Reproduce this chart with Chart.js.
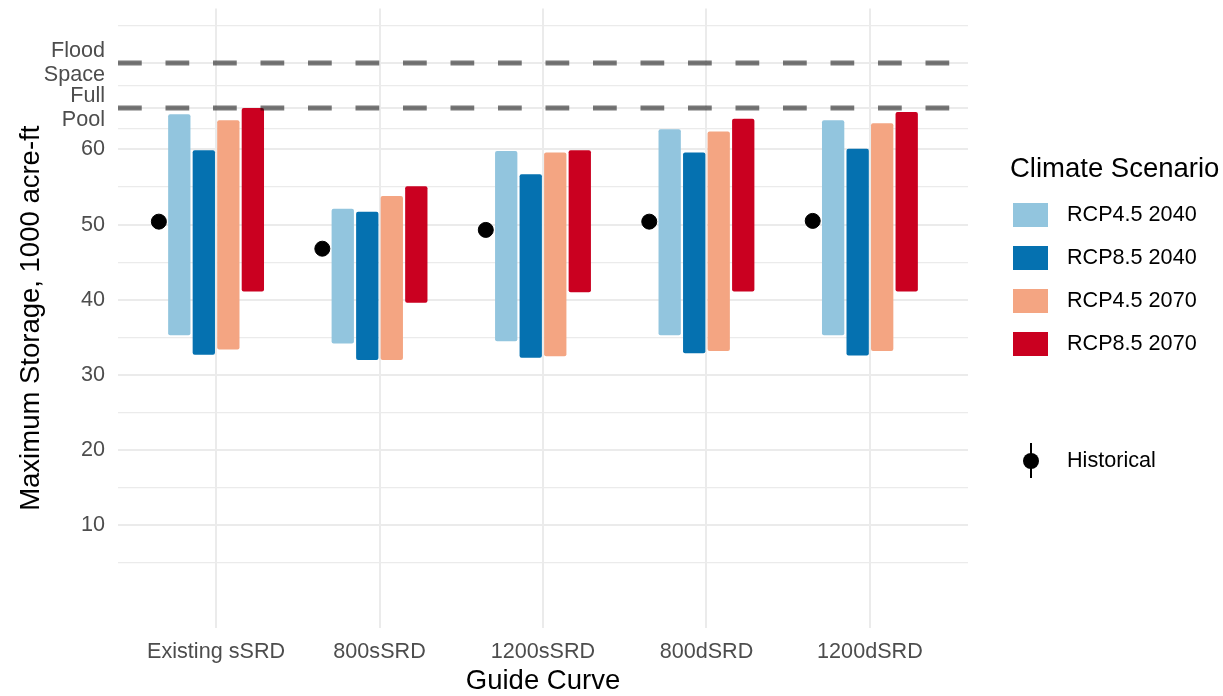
<!DOCTYPE html>
<html>
<head>
<meta charset="utf-8">
<script src="https://cdn.jsdelivr.net/npm/chart.js@4.4.1/dist/chart.umd.min.js"></script>
<style>
  html, body { margin: 0; padding: 0; background: #ffffff; }
  canvas { display: block; }
</style>
</head>
<body>
<canvas id="chart" width="1223" height="696"></canvas>
<script>
// Guide curves on the x axis
const guideCurves = ['Existing sSRD', '800sSRD', '1200sSRD', '800dSRD', '1200dSRD'];

// Climate scenarios and their fills
const scenarios = ['RCP4.5 2040', 'RCP8.5 2040', 'RCP4.5 2070', 'RCP8.5 2070'];
const scenarioColors = ['#92c5de', '#0571b0', '#f4a582', '#ca0020'];

// Range of maximum storage (1000 acre-ft) per scenario, one value per guide curve
const rcp45_2040_low  = [35.3, 34.2, 34.5, 35.3, 35.3];
const rcp45_2040_high = [64.7, 52.1, 59.8, 62.7, 63.9];
const rcp85_2040_low  = [32.7, 32.0, 32.3, 32.9, 32.6];
const rcp85_2040_high = [59.9, 51.7, 56.7, 59.6, 60.1];
const rcp45_2070_low  = [33.4, 32.0, 32.5, 33.2, 33.2];
const rcp45_2070_high = [63.9, 53.8, 59.6, 62.4, 63.5];
const rcp85_2070_low  = [41.1, 39.6, 41.0, 41.1, 41.1];
const rcp85_2070_high = [65.5, 55.1, 59.9, 64.1, 65.0];

// Historical maximum storage per guide curve
const historical = [50.4, 46.8, 49.3, 50.4, 50.5];

// Reservoir reference levels
const fullPool = 65.5;
const floodSpace = 71.5;

// Numeric y tick labels
const yTickValues = [10, 20, 30, 40, 50, 60];

const lows = [rcp45_2040_low, rcp85_2040_low, rcp45_2070_low, rcp85_2070_low];
const highs = [rcp45_2040_high, rcp85_2040_high, rcp45_2070_high, rcp85_2070_high];

// Major breaks: numeric ticks plus the two reference levels
const majorBreaks = yTickValues.concat([fullPool, floodSpace]);
// Minor breaks halfway between majors, extended by one step at each end
function minorBreaks(b) {
  const step = b[1] - b[0];
  const ext = [b[0] - step].concat(b, [b[b.length - 1] + step]);
  const out = [];
  for (let i = 0; i < ext.length - 1; i++) out.push((ext[i] + ext[i + 1]) / 2);
  return out;
}
const minors = minorBreaks(majorBreaks);
const allBreaks = majorBreaks.concat(minors).sort((a, b) => a - b);

function yLabel(v) {
  if (Math.abs(v - fullPool) < 1e-9) return ['Full', 'Pool'];
  if (Math.abs(v - floodSpace) < 1e-9) return ['Flood', 'Space'];
  if (yTickValues.includes(v)) return String(v);
  return '';
}
const isMajor = (v) => majorBreaks.some(m => Math.abs(m - v) < 1e-9);

const FONT = "'Liberation Sans', Arial, sans-serif";
const TICK_SIZE = 21.6;
const TITLE_SIZE = 27.5;
const historicalNudge = -0.35;

const datasets = scenarios.map((name, s) => ({
  type: 'bar',
  label: name,
  data: guideCurves.map((_, i) => ({ x: i, y: [lows[s][i], highs[s][i]] })),
  backgroundColor: scenarioColors[s],
  borderWidth: 0,
  borderRadius: 2,
  borderSkipped: false,
  categoryPercentage: 0.6,
  barPercentage: 0.91,
  order: 2
}));

datasets.push({
  type: 'scatter',
  label: 'Historical',
  data: guideCurves.map((_, i) => ({ x: i + historicalNudge, y: historical[i] })),
  backgroundColor: '#000000',
  borderColor: '#000000',
  pointRadius: 7.5,
  pointBorderWidth: 1,
  order: 1
});

// Dashed reference lines across the panel
const referenceLines = {
  id: 'referenceLines',
  afterDatasetsDraw(chart) {
    const { ctx, chartArea, scales } = chart;
    ctx.save();
    ctx.strokeStyle = 'rgba(0,0,0,0.53)';
    ctx.lineWidth = 5;
    ctx.setLineDash([23.75, 23.75]);
    ctx.lineCap = 'butt';
    [fullPool, floodSpace].forEach(v => {
      const y = scales.y.getPixelForValue(v);
      ctx.beginPath();
      ctx.moveTo(chartArea.left, y);
      ctx.lineTo(chartArea.right, y);
      ctx.stroke();
    });
    ctx.restore();
  }
};

// Legend on the right: scenario fills, then the historical point
const sideLegend = {
  id: 'sideLegend',
  afterDraw(chart) {
    const { ctx } = chart;
    ctx.save();
    ctx.fillStyle = '#000000';
    ctx.textBaseline = 'middle';
    ctx.textAlign = 'left';
    ctx.font = `${TITLE_SIZE}px ${FONT}`;
    ctx.fillText('Climate Scenario', 1010, 169);
    ctx.font = `${TICK_SIZE}px ${FONT}`;
    const rowY = [215, 258, 301, 344];
    scenarios.forEach((name, s) => {
      ctx.fillStyle = scenarioColors[s];
      ctx.fillRect(1013, rowY[s] - 12, 35, 24);
      ctx.fillStyle = '#000000';
      ctx.fillText(name, 1067, rowY[s]);
    });
    const hy = 461;
    ctx.strokeStyle = '#000000';
    ctx.lineWidth = 2;
    ctx.beginPath();
    ctx.moveTo(1031, hy - 18);
    ctx.lineTo(1031, hy + 17);
    ctx.stroke();
    ctx.beginPath();
    ctx.arc(1031, hy, 8, 0, Math.PI * 2);
    ctx.fill();
    ctx.fillText('Historical', 1067, hy);
    ctx.restore();
  }
};

function zeroPadding(scale) {
  scale.paddingTop = 0;
  scale.paddingBottom = 0;
  scale.paddingLeft = 0;
  scale.paddingRight = 0;
}

new Chart(document.getElementById('chart'), {
  data: { datasets },
  plugins: [referenceLines, sideLegend],
  options: {
    responsive: false,
    animation: false,
    devicePixelRatio: 1,
    layout: { padding: { left: 0, right: 255, top: 7, bottom: 0 } },
    plugins: {
      legend: { display: false },
      tooltip: { enabled: false }
    },
    scales: {
      x: {
        type: 'linear',
        offset: false,
        min: -0.6,
        max: 4.6,
        afterBuildTicks(scale) {
          scale.ticks = guideCurves.map((_, i) => ({ value: i }));
        },
        afterFit(scale) { scale.height = 68; zeroPadding(scale); },
        ticks: {
          autoSkip: false,
          maxRotation: 0,
          padding: 11,
          color: '#4d4d4d',
          font: { family: FONT, size: TICK_SIZE },
          callback: (v) => guideCurves[v]
        },
        grid: { color: '#ebebeb', lineWidth: 2, drawTicks: false, offset: false },
        border: { display: false },
        title: {
          display: true,
          text: 'Guide Curve',
          color: '#000000',
          font: { family: FONT, size: TITLE_SIZE, lineHeight: 1.05 },
          padding: { top: 0, bottom: 0 }
        }
      },
      y: {
        type: 'linear',
        min: -3.65,
        max: 78.75,
        afterBuildTicks(scale) {
          scale.ticks = allBreaks.map(v => ({ value: v }));
        },
        afterFit(scale) { scale.width = 118; zeroPadding(scale); },
        ticks: {
          autoSkip: false,
          padding: 13,
          color: '#4d4d4d',
          font: { family: FONT, size: TICK_SIZE, lineHeight: 1.08 },
          callback: (v) => yLabel(v)
        },
        grid: {
          color: '#ebebeb',
          lineWidth: (c) => (c.tick && isMajor(c.tick.value) ? 2 : 1.2),
          drawTicks: false
        },
        border: { display: false },
        title: {
          display: true,
          text: 'Maximum Storage, 1000 acre-ft',
          color: '#000000',
          font: { family: FONT, size: TITLE_SIZE },
          padding: { top: 15, bottom: 0 }
        }
      }
    }
  }
});
</script>
</body>
</html>
